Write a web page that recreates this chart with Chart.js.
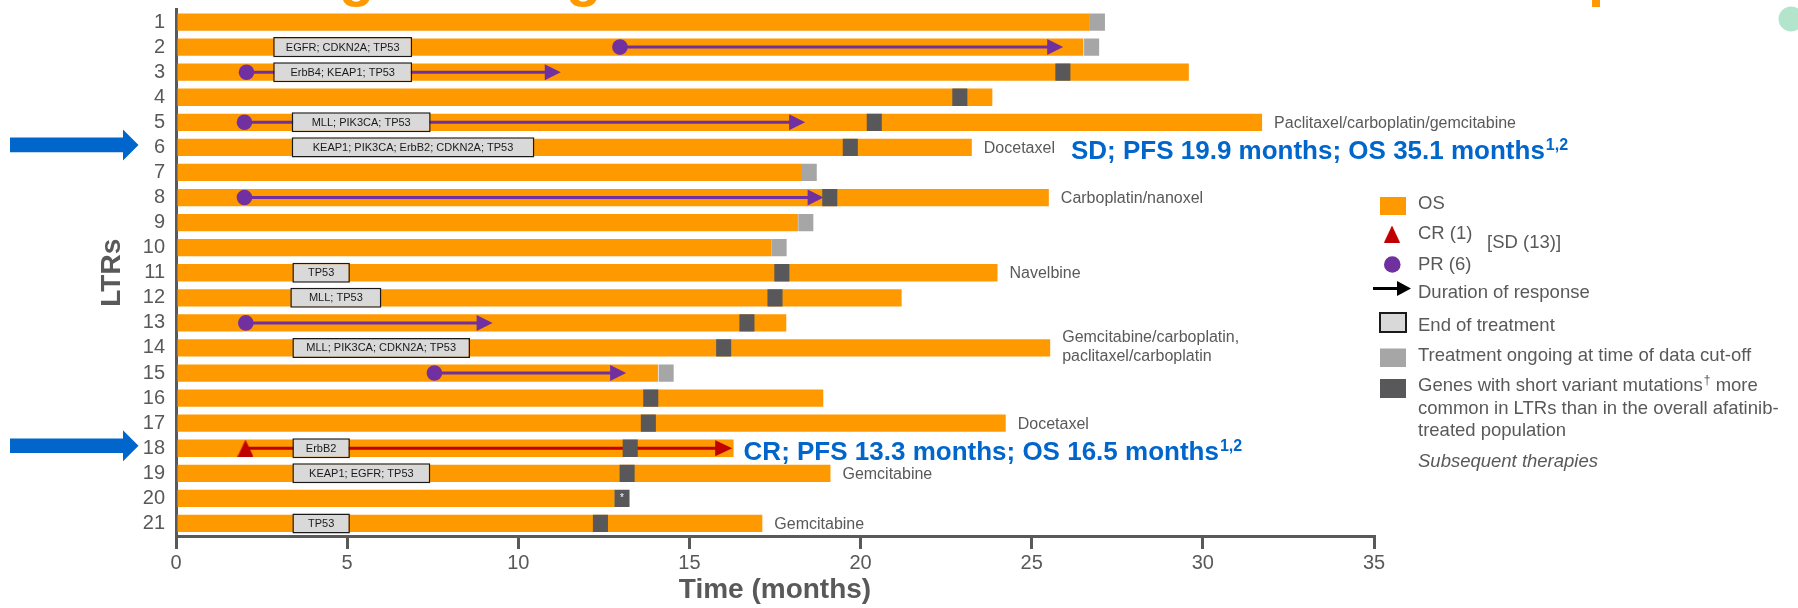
<!DOCTYPE html>
<html>
<head>
<meta charset="utf-8">
<title>LTRs swimmer plot</title>
<script src="https://cdn.jsdelivr.net/npm/chart.js@4.4.1/dist/chart.umd.min.js"></script>
<style>
  body { margin: 0; background: #ffffff; }
  #ltrChart { display: block; }
</style>
</head>
<body>
<canvas id="ltrChart" width="1798" height="608"></canvas>
<script>
// patients (LTRs), top to bottom
const patientLabels = ["1", "2", "3", "4", "5", "6", "7", "8", "9", "10", "11",
  "12", "13", "14", "15", "16", "17", "18", "19", "20", "21"];
// overall survival (months)
const osMonths = [26.70, 26.51, 29.59, 23.85, 31.73, 23.25, 18.29, 25.50, 18.17, 17.40, 24.00,
  21.20, 17.83, 25.54, 14.08, 18.91, 24.24, 16.29, 19.12, 12.82, 17.13];
// treatment ongoing at data cut-off (marker centre, months)
const ongoingMonths = [26.92, 26.75, null, null, null, null, 18.50, null, 18.40, 17.62, null,
  null, null, null, 14.32, null, null, null, null, null, null];
// end of treatment (marker centre, months)
const eotMonths = [null, null, 25.91, 22.90, 20.40, 19.70, null, 19.10, null, null, 17.70,
  17.50, 16.68, 16.00, null, 13.87, 13.80, 13.27, 13.18, 13.03, 12.40];
const eotNotes = ["", "", "", "", "", "", "", "", "", "", "",
  "", "", "", "", "", "", "", "", "*", ""];
// best response and duration of response (months)
const responseType = [null, "PR", "PR", null, "PR", null, null, "PR", null, null, null,
  null, "PR", null, "PR", null, null, "CR", null, null, null];
const responseStart = [null, 12.97, 2.06, null, 2.00, null, null, 2.00, null, null, null,
  null, 2.04, null, 7.55, null, null, 2.03, null, null, null];
const responseEnd = [null, 25.92, 11.24, null, 18.38, null, null, 18.92, null, null, null,
  null, 9.25, null, 13.15, null, null, 16.25, null, null, null];
// mutated genes (box span in months)
const geneStart = [null, 2.84, 2.84, null, 3.38, 3.38, null, null, null, null, 3.40,
  3.34, null, 3.40, null, null, null, 3.40, 3.40, null, 3.40];
const geneEnd = [null, 6.90, 6.90, null, 7.44, 10.47, null, null, null, null, 5.08,
  6.00, null, 8.59, null, null, null, 5.08, 7.43, null, 5.08];
const geneText = ["", "EGFR; CDKN2A; TP53", "ErbB4; KEAP1; TP53", "", "MLL; PIK3CA; TP53",
  "KEAP1; PIK3CA; ErbB2; CDKN2A; TP53", "", "", "", "", "TP53", "MLL; TP53", "",
  "MLL; PIK3CA; CDKN2A; TP53", "", "", "", "ErbB2", "KEAP1; EGFR; TP53", "", "TP53"];
// subsequent therapies
const therapyText = ["", "", "", "", "Paclitaxel/carboplatin/gemcitabine", "Docetaxel", "",
  "Carboplatin/nanoxel", "", "", "Navelbine", "", "",
  "Gemcitabine/carboplatin,\npaclitaxel/carboplatin", "", "", "Docetaxel", "",
  "Gemcitabine", "", "Gemcitabine"];
// highlighted patients
const highlightText = ["", "", "", "", "", "SD; PFS 19.9 months; OS 35.1 months", "", "", "", "", "",
  "", "", "", "", "", "", "CR; PFS 13.3 months; OS 16.5 months", "", "", ""];
const highlightRef = "1,2";
// x axis
const xMin = 0;
const xMax = 35;
const xStep = 5;

// styles
const fontFamily = '"Liberation Sans", Arial, sans-serif';
const orange = "#ff9900";
const lightGrey = "#a6a6a6";
const darkGrey = "#58585a";
const boxGrey = "#d9d9d9";
const axisGrey = "#595959";
const prPurple = "#7030a0";
const crRed = "#c00000";
const blue = "#0066cc";
const markerHalf = 0.22;

function makeTriangle(w, h, colour) {
  const c = document.createElement("canvas");
  c.width = w;
  c.height = h;
  const g = c.getContext("2d");
  g.fillStyle = colour;
  g.beginPath();
  g.moveTo(w / 2, 0);
  g.lineTo(w, h);
  g.lineTo(0, h);
  g.closePath();
  g.fill();
  return c;
}
const crTriangle = makeTriangle(16, 17, crRed);

// build chart data from the arrays above
const ongoingBars = ongoingMonths.map((v) => (v == null ? null : [v - markerHalf, v + markerHalf]));
const eotBars = eotMonths.map((v) => (v == null ? null : [v - markerHalf, v + markerHalf]));
const geneBars = geneStart.map((v, i) => (v == null ? null : [v, geneEnd[i]]));
const responsePoints = [];
const responseStyles = [];
const responseColours = [];
responseType.forEach((type, i) => {
  if (!type) return;
  responsePoints.push({ x: responseStart[i], y: patientLabels[i] });
  responseStyles.push(type === "CR" ? crTriangle : "circle");
  responseColours.push(type === "CR" ? crRed : prPurple);
});

// duration of response arrows, drawn just above the OS bars
function drawResponseArrows(chart) {
  const { ctx, scales: { x, y } } = chart;
  ctx.save();
  responseType.forEach((type, i) => {
    if (!type) return;
    const colour = type === "CR" ? crRed : prPurple;
    const yPix = y.getPixelForValue(i);
    const x0 = x.getPixelForValue(responseStart[i]);
    const x1 = x.getPixelForValue(responseEnd[i]);
    const headLen = type === "CR" ? 17 : 16;
    const headHalf = 8;
    ctx.strokeStyle = colour;
    ctx.lineWidth = 3;
    ctx.beginPath();
    ctx.moveTo(x0, yPix);
    ctx.lineTo(x1 - headLen + 1, yPix);
    ctx.stroke();
    ctx.fillStyle = colour;
    ctx.beginPath();
    ctx.moveTo(x1, yPix);
    ctx.lineTo(x1 - headLen, yPix - headHalf);
    ctx.lineTo(x1 - headLen, yPix + headHalf);
    ctx.closePath();
    ctx.fill();
  });
  ctx.restore();
}

// gene names, therapies and highlighted outcomes
function drawRowTexts(chart) {
  const { ctx, scales: { x, y } } = chart;
  ctx.save();
  patientLabels.forEach((label, i) => {
    const yPix = y.getPixelForValue(i);
    if (geneText[i]) {
      const cx = (x.getPixelForValue(geneStart[i]) + x.getPixelForValue(geneEnd[i])) / 2;
      ctx.font = "11px " + fontFamily;
      ctx.fillStyle = "#1a1a1a";
      ctx.textAlign = "center";
      ctx.textBaseline = "middle";
      ctx.fillText(geneText[i], cx, yPix + 0.5);
    }
    if (eotNotes[i]) {
      ctx.font = "10px " + fontFamily;
      ctx.fillStyle = "#ffffff";
      ctx.textAlign = "center";
      ctx.textBaseline = "middle";
      ctx.fillText(eotNotes[i], x.getPixelForValue(eotMonths[i]), yPix);
    }
    let textEnd = x.getPixelForValue(osMonths[i]);
    let gap = 10;
    if (therapyText[i]) {
      const tx = textEnd + 12;
      const lines = therapyText[i].split("\n");
      ctx.font = "16px " + fontFamily;
      ctx.fillStyle = axisGrey;
      ctx.textAlign = "left";
      ctx.textBaseline = "middle";
      if (lines.length === 1) {
        ctx.fillText(lines[0], tx, yPix + 1);
      } else {
        ctx.fillText(lines[0], tx, yPix - 10);
        ctx.fillText(lines[1], tx, yPix + 9);
      }
      textEnd = tx + Math.max(...lines.map((l) => ctx.measureText(l).width));
      gap = 16;
    }
    if (highlightText[i]) {
      const hx = textEnd + gap;
      ctx.font = "bold 26px " + fontFamily;
      ctx.fillStyle = blue;
      ctx.textAlign = "left";
      ctx.textBaseline = "alphabetic";
      ctx.fillText(highlightText[i], hx, yPix + 11.5);
      const w = ctx.measureText(highlightText[i]).width;
      ctx.font = "bold 16px " + fontFamily;
      ctx.fillText(highlightRef, hx + w + 1, yPix + 2.5);
    }
  });
  ctx.restore();
}

// blue arrows pointing at the highlighted patients
function drawHighlightArrows(chart) {
  const { ctx, scales: { y } } = chart;
  ctx.save();
  ctx.fillStyle = blue;
  highlightText.forEach((t, i) => {
    if (!t) return;
    const yMid = y.getPixelForValue(i) - 2.5;
    ctx.beginPath();
    ctx.moveTo(10, yMid - 7.3);
    ctx.lineTo(123, yMid - 7.3);
    ctx.lineTo(123, yMid - 15.5);
    ctx.lineTo(138.5, yMid);
    ctx.lineTo(123, yMid + 15.5);
    ctx.lineTo(123, yMid + 7.3);
    ctx.lineTo(10, yMid + 7.3);
    ctx.closePath();
    ctx.fill();
  });
  ctx.restore();
}

function drawLegend(chart) {
  const ctx = chart.ctx;
  const tx = 1418;
  ctx.save();
  ctx.textAlign = "left";
  ctx.textBaseline = "middle";
  ctx.font = "18.5px " + fontFamily;
  // OS
  ctx.fillStyle = orange;
  ctx.fillRect(1380, 197, 26, 18);
  ctx.fillStyle = axisGrey;
  ctx.fillText("OS", tx, 204);
  // CR
  ctx.drawImage(crTriangle, 1384, 225.5);
  ctx.fillStyle = axisGrey;
  ctx.fillText("CR (1)", tx, 234);
  ctx.fillText("[SD (13)]", 1487, 243);
  // PR
  ctx.fillStyle = prPurple;
  ctx.beginPath();
  ctx.arc(1392.3, 264.5, 8.3, 0, Math.PI * 2);
  ctx.fill();
  ctx.fillStyle = axisGrey;
  ctx.fillText("PR (6)", tx, 265);
  // duration of response
  ctx.strokeStyle = "#000000";
  ctx.lineWidth = 3;
  ctx.beginPath();
  ctx.moveTo(1373, 288.5);
  ctx.lineTo(1399, 288.5);
  ctx.stroke();
  ctx.fillStyle = "#000000";
  ctx.beginPath();
  ctx.moveTo(1411, 288.5);
  ctx.lineTo(1397, 281);
  ctx.lineTo(1397, 296);
  ctx.closePath();
  ctx.fill();
  ctx.fillStyle = axisGrey;
  ctx.fillText("Duration of response", tx, 293);
  // end of treatment
  ctx.fillStyle = boxGrey;
  ctx.fillRect(1380, 313, 26, 19);
  ctx.strokeStyle = "#1a1a1a";
  ctx.lineWidth = 2;
  ctx.strokeRect(1380, 313, 26, 19);
  ctx.fillStyle = axisGrey;
  ctx.fillText("End of treatment", tx, 326);
  // ongoing
  ctx.fillStyle = lightGrey;
  ctx.fillRect(1380, 348.5, 26, 18.5);
  ctx.fillStyle = axisGrey;
  ctx.fillText("Treatment ongoing at time of data cut-off", tx, 356);
  // genes
  ctx.fillStyle = darkGrey;
  ctx.fillRect(1380, 379, 26, 19);
  ctx.fillStyle = axisGrey;
  const first = "Genes with short variant mutations";
  ctx.fillText(first, tx, 386);
  const fw = ctx.measureText(first).width;
  ctx.font = "12px " + fontFamily;
  ctx.fillText("\u2020", tx + fw + 1, 381);
  const dw = ctx.measureText("\u2020").width;
  ctx.font = "18.5px " + fontFamily;
  ctx.fillText(" more", tx + fw + 1 + dw, 386);
  ctx.fillText("common in LTRs than in the overall afatinib-", tx, 409);
  ctx.fillText("treated population", tx, 431);
  ctx.font = "italic 18.5px " + fontFamily;
  ctx.fillText("Subsequent therapies", tx, 462);
  ctx.restore();
}

// remains of the slide title and decoration cut off at the top edge
function drawTopEdge(chart) {
  const ctx = chart.ctx;
  ctx.save();
  ctx.fillStyle = orange;
  ctx.font = "bold 58px " + fontFamily;
  ctx.textAlign = "left";
  ctx.textBaseline = "alphabetic";
  ctx.fillText("g", 339, -5.5);
  ctx.fillText("g", 566, -5.5);
  ctx.fillText("p", 1588, -5.5);
  ctx.fillStyle = "#b3e5cd";
  ctx.beginPath();
  ctx.arc(1791, 19, 12.5, 0, Math.PI * 2);
  ctx.fill();
  ctx.restore();
}

const swimmerExtras = {
  id: "swimmerExtras",
  afterDatasetDraw(chart, args) {
    if (chart.data.datasets[args.index].label === "OS") {
      drawResponseArrows(chart);
    }
  },
  afterDatasetsDraw(chart) {
    drawRowTexts(chart);
  },
  afterDraw(chart) {
    drawLegend(chart);
    drawHighlightArrows(chart);
    drawTopEdge(chart);
  },
};

const ctx = document.getElementById("ltrChart").getContext("2d");
const chart = new Chart(ctx, {
  type: "bar",
  data: {
    labels: patientLabels,
    datasets: [
      {
        label: "Response",
        type: "line",
        data: responsePoints,
        showLine: false,
        pointStyle: responseStyles,
        pointRadius: 7.8,
        pointBackgroundColor: responseColours,
        pointBorderWidth: 0,
        order: 0,
      },
      {
        label: "Genes",
        data: geneBars,
        backgroundColor: boxGrey,
        borderColor: "#1a1a1a",
        borderWidth: 1.5,
        borderSkipped: false,
        barPercentage: 0.8,
        categoryPercentage: 1,
        grouped: false,
        order: 1,
      },
      {
        label: "End of treatment",
        data: eotBars,
        backgroundColor: darkGrey,
        barPercentage: 0.69,
        categoryPercentage: 1,
        grouped: false,
        order: 2,
      },
      {
        label: "Ongoing",
        data: ongoingBars,
        backgroundColor: lightGrey,
        barPercentage: 0.69,
        categoryPercentage: 1,
        grouped: false,
        order: 3,
      },
      {
        label: "OS",
        data: osMonths,
        backgroundColor: orange,
        barPercentage: 0.69,
        categoryPercentage: 1,
        grouped: false,
        order: 4,
      },
    ],
  },
  options: {
    indexAxis: "y",
    responsive: false,
    animation: false,
    devicePixelRatio: 1,
    events: [],
    layout: { padding: { left: 0, top: 9.5, right: 424, bottom: 0 } },
    plugins: {
      legend: { display: false },
      tooltip: { enabled: false },
    },
    scales: {
      x: {
        type: "linear",
        position: "bottom",
        min: xMin,
        max: xMax,
        ticks: {
          stepSize: xStep,
          color: axisGrey,
          font: { size: 20, family: fontFamily },
          padding: 2,
        },
        grid: {
          drawOnChartArea: false,
          drawTicks: true,
          tickLength: 13,
          color: axisGrey,
          lineWidth: 3,
        },
        border: { display: true, color: axisGrey, width: 3 },
        title: {
          display: true,
          text: "Time (months)",
          color: axisGrey,
          font: { size: 28, weight: "bold", family: fontFamily },
          padding: { top: 0, bottom: 1 },
        },
        afterFit(scale) {
          scale.height = 72;
          scale.paddingLeft = 0;
          scale.paddingRight = 0;
        },
      },
      y: {
        type: "category",
        offset: true,
        ticks: {
          autoSkip: false,
          color: axisGrey,
          font: { size: 20, family: fontFamily },
          padding: 11,
        },
        grid: { display: false, drawTicks: false },
        border: { display: true, color: axisGrey, width: 3 },
        title: {
          display: true,
          text: "LTRs",
          color: axisGrey,
          font: { size: 28, weight: "bold", family: fontFamily },
          padding: { top: 95, bottom: 0 },
        },
        afterFit(scale) {
          scale.width = 176;
          scale.paddingTop = 0;
          scale.paddingBottom = 0;
        },
      },
    },
  },
  plugins: [swimmerExtras],
});
</script>
</body>
</html>
